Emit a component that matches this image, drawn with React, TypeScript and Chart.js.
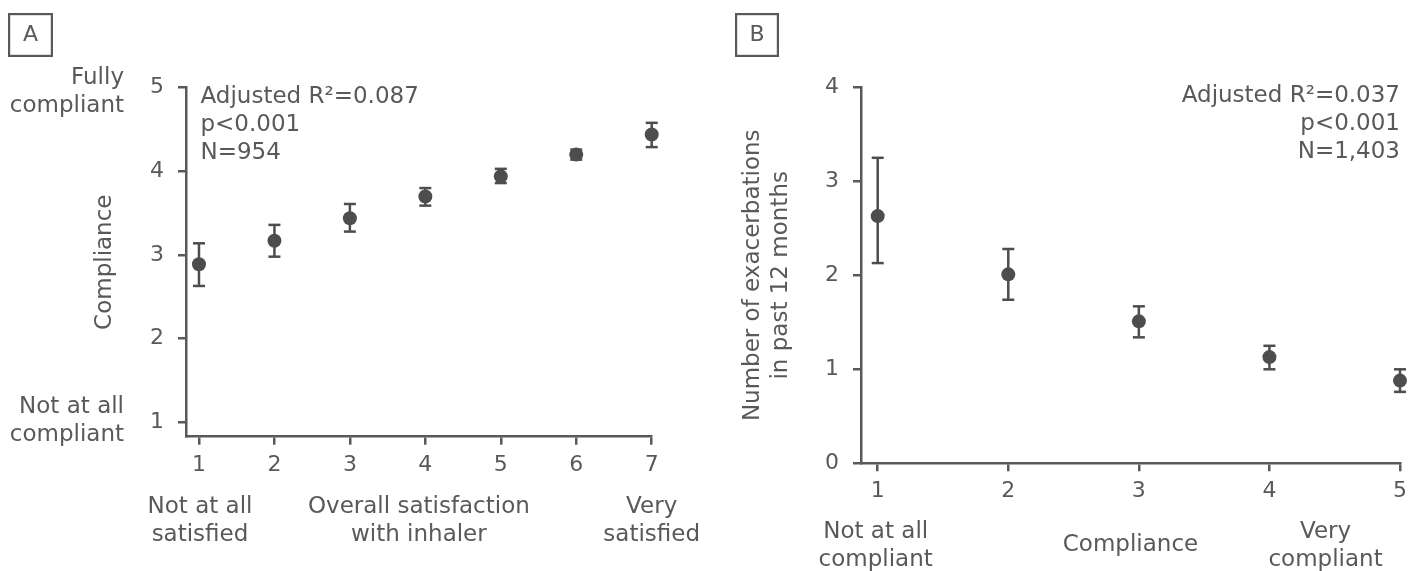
import React, { useEffect, useRef } from "react";
import { Chart, registerables } from "chart.js";

Chart.register(...registerables);

// ---------- data ----------
// Panel A: compliance by overall satisfaction with inhaler
const satisfactionLevels = [1, 2, 3, 4, 5, 6, 7];
const complianceMean = [2.89, 3.17, 3.44, 3.70, 3.94, 4.20, 4.44];
const complianceLow = [2.63, 2.98, 3.28, 3.59, 3.86, 4.14, 4.29];
const complianceHigh = [3.14, 3.36, 3.61, 3.80, 4.03, 4.26, 4.58];
const statsA = ["Adjusted R\u00B2=0.087", "p<0.001", "N=954"];

// Panel B: exacerbations by compliance
const complianceLevels = [1, 2, 3, 4, 5];
const exacerbationMean = [2.63, 2.01, 1.51, 1.13, 0.88];
const exacerbationLow = [2.13, 1.74, 1.34, 1.00, 0.76];
const exacerbationHigh = [3.25, 2.28, 1.67, 1.25, 1.00];
const statsB = ["Adjusted R\u00B2=0.037", "p<0.001", "N=1,403"];

// ---------- style ----------
const FONT = "'DejaVu Sans', sans-serif";
const TEXT = "#58595b";
const AXIS = "#58595b";
const MARK = "#4d4d4f";
const TEXT_SIZE = 23;
const TICK_SIZE = 22;
const LINE = 28;

function errorSegments(xs: number[], lo: number[], hi: number[]) {
  const out: { x: number; y: number | null }[] = [];
  xs.forEach((x, i) => {
    out.push({ x, y: lo[i] }, { x, y: hi[i] }, { x, y: null });
  });
  return out;
}

function points(xs: number[], ys: number[]) {
  return xs.map((x, i) => ({ x, y: ys[i] }));
}

function drawLines(
  ctx: CanvasRenderingContext2D,
  lines: string[],
  x: number,
  y: number,
  align: CanvasTextAlign,
  size = TEXT_SIZE
) {
  ctx.save();
  ctx.font = `${size}px ${FONT}`;
  ctx.fillStyle = TEXT;
  ctx.textAlign = align;
  ctx.textBaseline = "middle";
  lines.forEach((l, i) => ctx.fillText(l, x, y + i * LINE));
  ctx.restore();
}

function drawPanelBox(ctx: CanvasRenderingContext2D, x: number, y: number, w: number, h: number, label: string) {
  ctx.save();
  ctx.strokeStyle = AXIS;
  ctx.lineWidth = 2.2;
  ctx.strokeRect(x + 1.1, y + 1.1, w - 2.2, h - 2.2);
  ctx.restore();
  drawLines(ctx, [label], x + w / 2, y + h / 2 + 0.5, "center", 22);
}

function makeScatterDatasets(xs: number[], mean: number[], lo: number[], hi: number[]) {
  return [
    {
      type: "scatter" as const,
      data: points(xs, mean),
      pointRadius: 7,
      pointHoverRadius: 7,
      pointBackgroundColor: MARK,
      pointBorderWidth: 0,
      showLine: false,
      clip: false,
      order: 0,
    },
    {
      type: "scatter" as const,
      data: errorSegments(xs, lo, hi),
      showLine: true,
      spanGaps: false,
      borderColor: MARK,
      borderWidth: 2.5,
      pointStyle: "line" as const,
      pointRadius: 6,
      pointHoverRadius: 6,
      pointBorderColor: MARK,
      pointBorderWidth: 2.5,
      clip: false,
      order: 1,
    },
  ];
}

function axisCommon() {
  return {
    grid: {
      display: true,
      drawOnChartArea: false,
      drawTicks: true,
      tickLength: 8,
      color: AXIS,
      lineWidth: 2.5,
    },
    border: { display: true, color: AXIS, width: 2.5 },
  };
}

const tickFont = { family: FONT, size: TICK_SIZE, lineHeight: "25px" };
const titleFont = { family: FONT, size: TEXT_SIZE, lineHeight: `${LINE}px` };

export default function App() {
  const refA = useRef<HTMLCanvasElement>(null);
  const refB = useRef<HTMLCanvasElement>(null);

  useEffect(() => {
    const pluginA = {
      id: "annotA",
      afterDraw(chart: any) {
        const { ctx, chartArea, scales } = chart;
        const x = scales.x;
        const y = scales.y;
        drawPanelBox(ctx, 8, 13, 45, 44, "A");
        drawLines(ctx, statsA, chartArea.left + 14.5, chartArea.top + 9, "left");
        const rightEdge = chartArea.left - 62;
        drawLines(ctx, ["Fully", "compliant"], rightEdge, y.getPixelForValue(5) - 9.5, "right");
        drawLines(ctx, ["Not at all", "compliant"], rightEdge, y.getPixelForValue(1) - 15.5, "right");
        const by = chartArea.bottom + 70;
        drawLines(ctx, ["Not at all", "satisfied"], x.getPixelForValue(1) + 1, by, "center");
        drawLines(ctx, ["Very", "satisfied"], x.getPixelForValue(7), by, "center");
      },
    };

    const pluginB = {
      id: "annotB",
      afterDraw(chart: any) {
        const { ctx, chartArea, scales } = chart;
        const x = scales.x;
        drawPanelBox(ctx, 15, 13, 44, 44, "B");
        drawLines(ctx, statsB, chartArea.right, chartArea.top + 9, "right");
        const by = chartArea.bottom + 68.5;
        drawLines(ctx, ["Not at all", "compliant"], x.getPixelForValue(1) - 2, by, "center");
        drawLines(ctx, ["Very", "compliant"], x.getPixelForValue(4.43), by, "center");
      },
    };

    const chartA = new Chart(refA.current as HTMLCanvasElement, {
      type: "scatter",
      data: {
        datasets: makeScatterDatasets(satisfactionLevels, complianceMean, complianceLow, complianceHigh) as any,
      },
      options: {
        responsive: false,
        animation: false,
        events: [],
        layout: { padding: { left: 0, top: 87.7, right: 68.3, bottom: 0 } },
        plugins: { legend: { display: false }, tooltip: { enabled: false } },
        scales: {
          x: {
            type: "linear",
            min: 0.828,
            max: 7,
            ...axisCommon(),
            ticks: { stepSize: 1, includeBounds: false, font: tickFont, color: TEXT, padding: 8.5 },
            title: {
              display: true,
              text: ["Overall satisfaction", "with inhaler"],
              font: titleFont,
              color: TEXT,
              padding: { top: 0, bottom: 22.3 },
            },
            afterFit: (s: any) => {
              s.height = 134.3;
            },
          },
          y: {
            type: "linear",
            min: 0.828,
            max: 5,
            ...axisCommon(),
            ticks: { stepSize: 1, includeBounds: false, font: tickFont, color: TEXT, padding: 14 },
            title: {
              display: true,
              text: "Compliance",
              font: titleFont,
              color: TEXT,
              padding: { top: 91, bottom: 0 },
            },
            afterFit: (s: any) => {
              s.width = 186;
            },
          },
        },
      } as any,
      plugins: [pluginA],
    });

    const chartB = new Chart(refB.current as HTMLCanvasElement, {
      type: "scatter",
      data: {
        datasets: makeScatterDatasets(complianceLevels, exacerbationMean, exacerbationLow, exacerbationHigh) as any,
      },
      options: {
        responsive: false,
        animation: false,
        events: [],
        layout: { padding: { left: 0, top: 87.3, right: 19, bottom: 0 } },
        plugins: { legend: { display: false }, tooltip: { enabled: false } },
        scales: {
          x: {
            type: "linear",
            min: 0.872,
            max: 5,
            ...axisCommon(),
            ticks: { stepSize: 1, includeBounds: false, font: tickFont, color: TEXT, padding: 7.5 },
            title: {
              display: true,
              text: "Compliance",
              font: titleFont,
              color: TEXT,
              padding: { top: 0, bottom: 12 },
            },
            afterFit: (s: any) => {
              s.height = 107.7;
            },
          },
          y: {
            type: "linear",
            min: 0,
            max: 4,
            ...axisCommon(),
            ticks: { stepSize: 1, includeBounds: false, font: tickFont, color: TEXT, padding: 14 },
            title: {
              display: true,
              text: ["Number of exacerbations", "in past 12 months"],
              font: titleFont,
              color: TEXT,
              padding: { top: 19, bottom: 0 },
            },
            afterFit: (s: any) => {
              s.width = 141;
            },
          },
        },
      } as any,
      plugins: [pluginB],
    });

    return () => {
      chartA.destroy();
      chartB.destroy();
    };
  }, []);

  return (
    <div style={{ position: "absolute", left: 0, top: 0, width: 1419, height: 571, background: "#ffffff" }}>
      <canvas
        ref={refA}
        width={720}
        height={571}
        style={{ position: "absolute", left: 0, top: 0, width: 720, height: 571 }}
      />
      <canvas
        ref={refB}
        width={699}
        height={571}
        style={{ position: "absolute", left: 720, top: 0, width: 699, height: 571 }}
      />
    </div>
  );
}
